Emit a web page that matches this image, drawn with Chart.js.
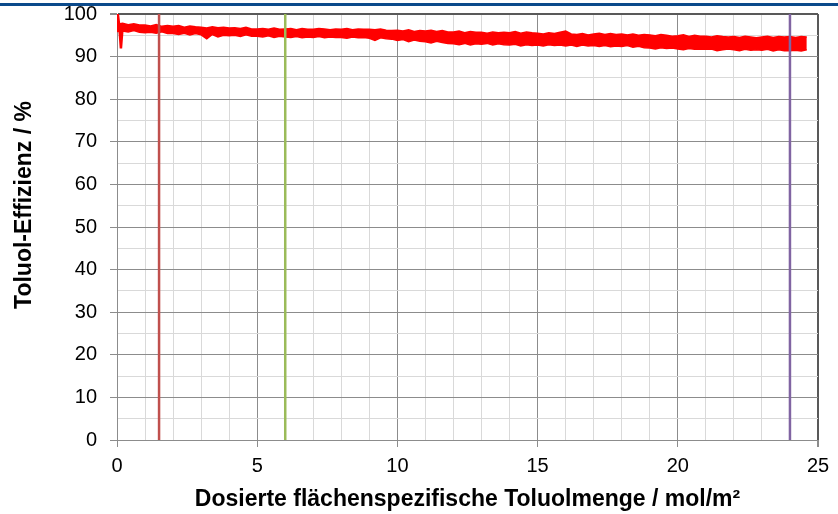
<!DOCTYPE html>
<html>
<head>
<meta charset="utf-8">
<script src="https://cdn.jsdelivr.net/npm/chart.js@4"></script>
<style>
    html, body { margin: 0; padding: 0; background: #fff; }
    #wrap { position: relative; width: 838px; height: 514px; }
    #topline { position: absolute; left: 0; top: 3px; width: 838px; height: 3px; background: #0b4a8b; }
    canvas { position: absolute; left: 0; top: 0; }
</style>
</head>
<body>
<div id="wrap">
    <canvas id="chart" width="838" height="514"></canvas>
    <div id="topline"></div>
</div>
<script>
// dosed toluene amount (mol/m²), sampled along the measured curve
const doseX = [
    0, 0.2, 0.4, 0.6, 0.8, 1, 1.2, 1.4, 1.6, 1.8, 2, 2.2, 2.4, 2.6, 2.8,
    3, 3.2, 3.4, 3.6, 3.8, 4, 4.2, 4.4, 4.6, 4.8, 5, 5.2, 5.4, 5.6, 5.8,
    6, 6.2, 6.4, 6.6, 6.8, 7, 7.2, 7.4, 7.6, 7.8, 8, 8.2, 8.4, 8.6, 8.8,
    9, 9.2, 9.4, 9.6, 9.8, 10, 10.2, 10.4, 10.6, 10.8, 11, 11.2, 11.4, 11.6, 11.8,
    12, 12.2, 12.4, 12.6, 12.8, 13, 13.2, 13.4, 13.6, 13.8, 14, 14.2, 14.4, 14.6, 14.8,
    15, 15.2, 15.4, 15.6, 15.8, 16, 16.2, 16.4, 16.6, 16.8, 17, 17.2, 17.4, 17.6, 17.8,
    18, 18.2, 18.4, 18.6, 18.8, 19, 19.2, 19.4, 19.6, 19.8, 20, 20.2, 20.4, 20.6, 20.8,
    21, 21.2, 21.4, 21.6, 21.8, 22, 22.2, 22.4, 22.6, 22.8, 23, 23.2, 23.4, 23.6, 23.8,
    24, 24.2, 24.4, 24.6
];

// upper / lower edge of the noisy efficiency trace (%)
const effUpper = [
    97.6, 97.8, 97.5, 97.7, 97.4, 97.4, 97.2, 97.5, 97.1, 97.3, 97.1, 97.3, 96.9, 97.2, 97.0,
    96.9, 96.7, 97.0, 96.8, 96.9, 96.7, 96.8, 96.6, 96.9, 96.5, 96.5, 96.6, 96.4, 96.7, 96.4,
    96.5, 96.6, 96.3, 96.6, 96.4, 96.4, 96.6, 96.5, 96.3, 96.5, 96.4, 96.6, 96.3, 96.5, 96.4,
    96.4, 96.3, 96.5, 96.2, 96.1, 96.2, 96.0, 96.3, 95.9, 96.1, 96.0, 96.2, 95.9, 96.1, 95.8,
    95.8, 96.0, 95.6, 95.9, 95.7, 95.7, 95.5, 95.8, 95.6, 95.7, 95.6, 95.9, 95.5, 95.8, 95.6,
    95.5, 95.3, 95.6, 95.4, 95.7, 96.0, 95.3, 95.2, 95.4, 95.1, 95.3, 95.5, 95.2, 95.4, 95.2,
    95.3, 95.1, 95.3, 95.0, 95.2, 95.1, 94.9, 95.2, 95.0, 94.8, 94.9, 95.1, 94.7, 95.0, 94.8,
    94.8, 94.6, 94.9, 94.7, 94.6, 94.7, 94.5, 94.8, 94.6, 94.4, 94.6, 94.8, 94.5, 94.7, 94.6,
    94.7, 94.5, 94.7, 94.6
];
const effLower = [
    95.9, 96.0, 95.8, 96.1, 95.7, 95.6, 95.7, 95.5, 95.8, 95.4, 95.4, 95.2, 95.5, 95.1, 95.4,
    95.1, 94.2, 95.2, 94.6, 95.0, 94.9, 95.0, 94.7, 95.1, 94.8, 94.8, 94.6, 94.9, 94.5, 94.8,
    94.6, 94.5, 94.7, 94.4, 94.6, 94.5, 94.7, 94.4, 94.6, 94.5, 94.5, 94.3, 94.6, 94.4, 94.5,
    94.3, 93.8, 94.4, 94.2, 94.1, 93.8, 94.0, 93.5, 93.9, 93.6, 93.5, 93.2, 93.6, 93.3, 93.1,
    93.0, 92.8, 93.1, 92.7, 93.0, 92.9, 93.1, 92.7, 93.0, 92.8, 92.7, 92.9, 92.5, 92.8, 92.6,
    92.7, 92.5, 92.8, 92.6, 92.7, 92.5, 92.7, 92.4, 92.7, 92.5, 92.6, 92.4, 92.6, 92.3, 92.5,
    92.4, 92.6, 92.2, 92.4, 92.1, 92.0, 91.8, 92.1, 91.9, 92.0, 91.8, 91.6, 91.9, 91.7, 91.8,
    91.7, 91.8, 91.4, 91.6, 91.8, 91.6, 91.4, 91.7, 91.5, 91.6, 91.5, 91.7, 91.3, 91.6, 91.4,
    91.4, 91.5, 91.3, 91.6
];

// start-up transient right at the beginning of dosing
const startX = [0, 0.03, 0.08, 0.14, 0.2];
const startY = [96.8, 100, 97.2, 91.9, 97.0];

// vertical markers
const markerX = [1.5, 6, 24];
const markerColors = ['#c0504d', '#9bbb59', '#8064a2'];

const MAJOR_GRID = '#8c8c8c';
const MINOR_GRID = '#d9d9d9';
const FRAME = '#595959';
const FONT = 'Liberation Sans, Arial, sans-serif';
const Y_TITLE = 'Toluol-Effizienz / %';

const toPoints = (xs, ys) => xs.map((x, i) => ({ x: x, y: ys[i] }));

const markerSets = markerX.map((x, i) => ({
    data: [{ x: x, y: 0 }, { x: x, y: 100 }],
    borderColor: markerColors[i],
    borderWidth: 2.5,
    pointRadius: 0,
    order: 0
}));

// y title sits a bit above the plot centre in the original, so draw it by hand
const yTitlePlugin = {
    id: 'yTitle',
    afterDraw(chart) {
        const c = chart.ctx;
        c.save();
        c.translate(25, 205);
        c.rotate(-Math.PI / 2);
        c.font = 'bold 23px ' + FONT;
        c.fillStyle = '#000';
        c.textAlign = 'center';
        c.textBaseline = 'middle';
        c.fillText(Y_TITLE, 0, 0);
        c.restore();
    }
};

const ctx = document.getElementById('chart').getContext('2d');

new Chart(ctx, {
    type: 'line',
    data: {
        datasets: [
            ...markerSets,
            {
                data: toPoints(startX, startY),
                borderColor: '#ff0000',
                borderWidth: 2.5,
                pointRadius: 0,
                order: 1
            },
            {
                data: toPoints(doseX, effUpper),
                borderColor: '#ff0000',
                backgroundColor: '#ff0000',
                borderWidth: 1.5,
                pointRadius: 0,
                fill: '+1',
                order: 2
            },
            {
                data: toPoints(doseX, effLower),
                borderColor: '#ff0000',
                borderWidth: 1.5,
                pointRadius: 0,
                fill: false,
                order: 2
            }
        ]
    },
    options: {
        responsive: false,
        animation: false,
        layout: { padding: { top: 14, right: 20, bottom: 0, left: 0 } },
        scales: {
            x: {
                type: 'linear',
                min: 0,
                max: 25,
                afterFit: scale => {
                    scale.height = 74;
                    scale.paddingLeft = 0;
                    scale.paddingRight = 0;
                },
                ticks: {
                    stepSize: 1,
                    autoSkip: false,
                    maxRotation: 0,
                    padding: 7,
                    color: '#000',
                    font: { family: FONT, size: 20 },
                    callback: value => (value % 5 === 0 ? value : '')
                },
                grid: {
                    tickLength: 7,
                    color: c => (c.tick.value === 25 ? FRAME : (c.tick.value % 5 === 0 ? MAJOR_GRID : MINOR_GRID)),
                    lineWidth: c => (c.tick.value === 25 ? 2 : 1),
                    tickColor: c => (c.tick.value % 5 === 0 ? MAJOR_GRID : 'rgba(0,0,0,0)')
                },
                border: { color: MAJOR_GRID, width: 1 },
                title: {
                    display: true,
                    text: 'Dosierte flächenspezifische Toluolmenge / mol/m²',
                    color: '#000',
                    padding: { top: 0, bottom: 1 },
                    font: { family: FONT, size: 23, weight: 'bold' }
                }
            },
            y: {
                min: 0,
                max: 100,
                afterFit: scale => {
                    scale.width = 117;
                    scale.paddingTop = 0;
                    scale.paddingBottom = 0;
                },
                ticks: {
                    stepSize: 5,
                    autoSkip: false,
                    padding: 13,
                    color: '#000',
                    font: { family: FONT, size: 20 },
                    callback: value => (value % 10 === 0 ? value : '')
                },
                grid: {
                    tickLength: 7,
                    color: c => (c.tick.value === 100 ? FRAME : (c.tick.value % 10 === 0 ? MAJOR_GRID : MINOR_GRID)),
                    lineWidth: c => (c.tick.value === 100 ? 2 : 1),
                    tickColor: c => (c.tick.value % 10 === 0 ? MAJOR_GRID : 'rgba(0,0,0,0)')
                },
                border: { color: MAJOR_GRID, width: 1 }
            }
        },
        plugins: {
            legend: { display: false },
            tooltip: { enabled: false }
        }
    },
    plugins: [yTitlePlugin]
});
</script>
</body>
</html>
